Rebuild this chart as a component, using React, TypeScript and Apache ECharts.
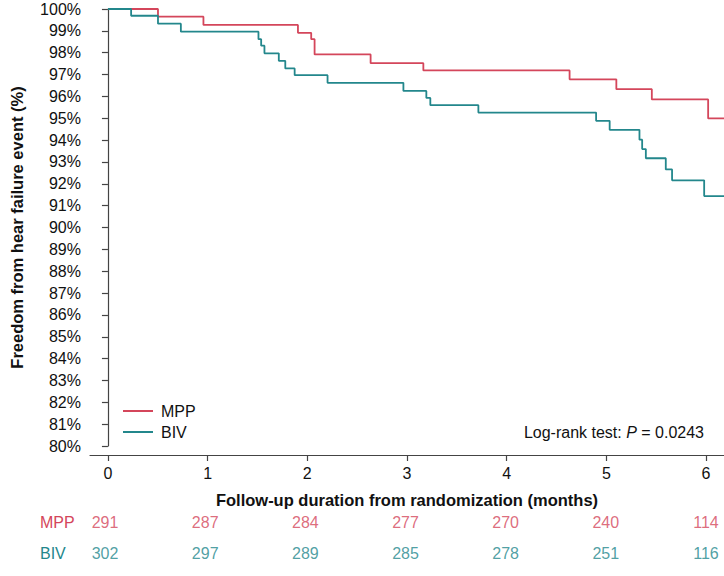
import React, { useEffect, useRef } from "react";
import * as echarts from "echarts";

const RED = "#d4465b";
const TEAL = "#23878c";
const AXIS = "#444444";
const FONT = "'Liberation Sans', Arial, Helvetica, sans-serif";

// Kaplan-Meier step points (time in months, survival %), value after each drop
const mppTimes = [0, 0.502, 0.958, 1.906, 2.039, 2.073, 2.635, 3.164, 4.631, 5.1, 5.456, 6.021, 6.18];
const mppSurv = [100, 99.65, 99.27, 98.91, 98.62, 97.92, 97.52, 97.19, 96.78, 96.33, 95.86, 94.99, 94.99];

const bivTimes = [0, 0.2325, 0.502, 0.7315, 1.51, 1.537, 1.57, 1.714, 1.779, 1.873, 2.203, 2.964, 3.194, 3.234, 3.716, 4.897, 5.033, 5.332, 5.359, 5.396, 5.596, 5.659, 5.981, 6.18];
const bivSurv = [100, 99.69, 99.33, 98.96, 98.62, 98.32, 97.97, 97.63, 97.28, 96.97, 96.62, 96.25, 95.93, 95.6, 95.26, 94.88, 94.47, 94.02, 93.59, 93.17, 92.66, 92.16, 91.44, 91.44];

// Numbers at risk
const riskTimes = [0, 1, 2, 3, 4, 5, 6];
const mppRisk = [291, 287, 284, 277, 270, 240, 114];
const bivRisk = [302, 297, 289, 285, 278, 251, 116];
const groups = ["MPP", "BIV"];

const X_MIN = -0.18;
const X_MAX = 6.18;

export default function App() {
  const ref = useRef<HTMLDivElement>(null);
  useEffect(() => {
    if (!ref.current) return;
    const chart = echarts.init(ref.current, null, { renderer: "svg" });
    const option: any = {
      animation: false,
      textStyle: { fontFamily: FONT },
      grid: [
        { left: 87, right: 0, top: 9, height: 437, containLabel: false },
        { left: 87, right: 0, top: 507, height: 62, containLabel: false },
      ],
      legend: {
        orient: "vertical",
        left: 118,
        top: 398,
        itemWidth: 30,
        itemHeight: 2,
        itemGap: 5,
        icon: "rect",
        data: ["MPP", "BIV"],
        textStyle: { fontSize: 16, color: "#111", fontFamily: FONT, padding: [0, 0, 0, 3] },
      },
      xAxis: [
        {
          type: "value",
          gridIndex: 0,
          min: X_MIN,
          max: X_MAX,
          offset: 9,
          splitLine: { show: false },
          axisLine: { show: true, lineStyle: { color: AXIS, width: 1.2 } },
          axisTick: { show: true, length: 6, customValues: riskTimes, lineStyle: { color: AXIS, width: 1.2 } },
          axisLabel: { customValues: riskTimes, fontSize: 16, color: "#111", margin: 10, fontFamily: FONT },
          name: "Follow-up duration from randomization (months)",
          nameLocation: "middle",
          nameGap: 36,
          nameTextStyle: { fontSize: 16.5, fontWeight: "bold", color: "#111", fontFamily: FONT },
        },
        {
          type: "value",
          gridIndex: 1,
          min: X_MIN,
          max: X_MAX,
          show: false,
        },
      ],
      yAxis: [
        {
          type: "value",
          gridIndex: 0,
          min: 80,
          max: 100,
          interval: 1,
          splitLine: { show: false },
          axisLine: { show: true, lineStyle: { color: AXIS, width: 1.2 } },
          axisTick: { show: true, length: 6, lineStyle: { color: AXIS, width: 1.2 } },
          axisLabel: { fontSize: 16, color: "#111", margin: 9, formatter: (v: number) => `${v}%`, fontFamily: FONT },
          name: "Freedom from hear failure event (%)",
          nameLocation: "middle",
          nameGap: 65,
          nameTextStyle: { fontSize: 16.5, fontWeight: "bold", color: "#111", fontFamily: FONT },
        },
        {
          type: "category",
          gridIndex: 1,
          data: groups,
          inverse: true,
          axisLine: { show: false },
          axisTick: { show: false },
          axisLabel: {
            align: "left",
            margin: 47,
            fontSize: 16,
            formatter: (v: string) => `{${v}|${v}}`,
            rich: {
              MPP: { color: RED, fontSize: 16, fontFamily: FONT },
              BIV: { color: TEAL, fontSize: 16, fontFamily: FONT },
            },
          },
        },
      ],
      series: [
        {
          name: "MPP",
          type: "line",
          step: "end",
          symbol: "none",
          xAxisIndex: 0,
          yAxisIndex: 0,
          data: mppTimes.map((t, i) => [t, mppSurv[i]]),
          lineStyle: { color: RED, width: 1.8 },
          itemStyle: { color: RED },
        },
        {
          name: "BIV",
          type: "line",
          step: "end",
          symbol: "none",
          xAxisIndex: 0,
          yAxisIndex: 0,
          data: bivTimes.map((t, i) => [t, bivSurv[i]]),
          lineStyle: { color: TEAL, width: 1.8 },
          itemStyle: { color: TEAL },
        },
        {
          type: "scatter",
          xAxisIndex: 1,
          yAxisIndex: 1,
          symbolSize: 1,
          itemStyle: { color: "transparent" },
          data: riskTimes.map((t, i) => [t, "MPP", mppRisk[i]]),
          label: { show: true, position: "inside", formatter: (p: any) => `${p.data[2]}`, color: RED, fontSize: 16, fontFamily: FONT },
        },
        {
          type: "scatter",
          xAxisIndex: 1,
          yAxisIndex: 1,
          symbolSize: 1,
          itemStyle: { color: "transparent" },
          data: riskTimes.map((t, i) => [t, "BIV", bivRisk[i]]),
          label: { show: true, position: "inside", formatter: (p: any) => `${p.data[2]}`, color: TEAL, fontSize: 16, fontFamily: FONT },
        },
      ],
      graphic: [
        {
          type: "text",
          right: 20,
          top: 424,
          style: {
            text: "{a|Log-rank test: }{b|P}{a| = 0.0243}",
            rich: {
              a: { fontSize: 16, fill: "#111", fontFamily: FONT },
              b: { fontSize: 16, fill: "#111", fontStyle: "italic", fontFamily: FONT },
            },
          },
        },
      ],
    };
    chart.setOption(option);
    return () => chart.dispose();
  }, []);
  return <div ref={ref} style={{ width: 724, height: 576, position: "absolute", left: 0, top: 0 }} />;
}
